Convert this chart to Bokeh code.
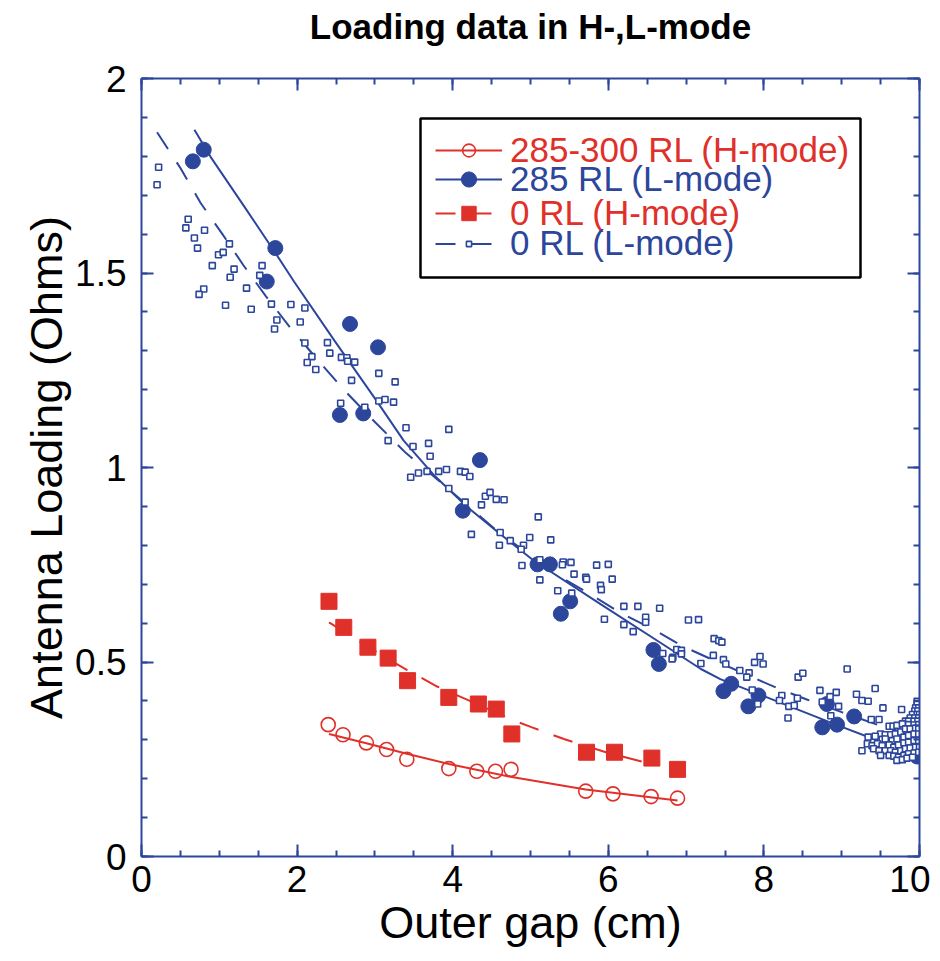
from bokeh.plotting import figure
from bokeh.models import (Range1d, LinearAxis, FixedTicker, CustomJSTickFormatter,
                          Legend, LegendItem, BoxAnnotation)
from bokeh.embed import file_html
from bokeh.resources import INLINE

BLUE = "#2c469c"
RED = "#e0302a"
FONT = "Liberation Sans"

TITLE = "Loading data in H-,L-mode"
X_LABEL = "Outer gap (cm)"
Y_LABEL = "Antenna Loading (Ohms)"
X_TICKS = [0, 2, 4, 6, 8, 10]
Y_TICKS = [0, 0.5, 1, 1.5, 2]
X_MINOR = [i * 0.5 for i in range(21)]
Y_MINOR = [i * 0.1 for i in range(21)]

# 285-300 RL (H-mode): open red circles + solid fit
H285_X = [2.40, 2.59, 2.89, 3.15, 3.41, 3.95, 4.31, 4.55, 4.75, 5.71, 6.06, 6.55, 6.89]
H285_Y = [0.339, 0.313, 0.292, 0.275, 0.250, 0.226, 0.219, 0.219, 0.224, 0.168, 0.161, 0.154, 0.150]
H285_FIT_X = [2.41, 2.89, 3.41, 3.95, 4.74, 5.71, 6.89]
H285_FIT_Y = [0.315, 0.291, 0.264, 0.238, 0.205, 0.172, 0.144]

# 0 RL (H-mode): red squares + dashed fit
H0_X = [2.41, 2.60, 2.91, 3.17, 3.42, 3.95, 4.33, 4.56, 4.76, 5.72, 6.08, 6.56, 6.89]
H0_Y = [0.656, 0.589, 0.538, 0.510, 0.452, 0.409, 0.392, 0.379, 0.315, 0.268, 0.268, 0.253, 0.224]
H0_FIT_X = [2.41, 2.90, 3.20, 3.41, 3.80, 4.30, 4.78, 5.02, 5.43, 6.00, 6.63]
H0_FIT_Y = [0.602, 0.541, 0.504, 0.480, 0.437, 0.393, 0.350, 0.332, 0.302, 0.266, 0.234]

# 285 RL (L-mode): filled blue circles + solid fit
L285_X = [0.66, 0.80, 1.61, 1.72, 2.55, 2.68, 2.85, 3.04, 4.13, 4.35, 5.09, 5.25, 5.39, 5.51,
          6.58, 6.65, 7.48, 7.58, 7.80, 7.93, 8.75, 8.81, 8.94, 9.16, 9.97]
L285_Y = [1.787, 1.817, 1.478, 1.564, 1.135, 1.369, 1.139, 1.309, 0.889, 1.019, 0.751, 0.751, 0.624, 0.656,
          0.531, 0.495, 0.425, 0.444, 0.386, 0.414, 0.332, 0.392, 0.339, 0.360, 0.257]
L285_FIT_X = [0.68, 0.89, 1.30, 1.70, 1.96, 2.48, 3.02, 3.37, 3.77, 4.19, 4.61, 5.04, 5.90, 6.76,
              7.19, 7.44, 8.04, 8.90, 9.41, 9.97]
L285_FIT_Y = [1.868, 1.798, 1.677, 1.558, 1.478, 1.326, 1.172, 1.069, 0.978, 0.898, 0.829, 0.761, 0.649, 0.538,
              0.482, 0.456, 0.409, 0.341, 0.302, 0.260]

# 0 RL (L-mode): small open blue squares + dashed fit
L0_X = [0.22, 0.20, 0.60, 0.57, 0.81, 0.68, 0.72, 1.13, 0.99, 1.05, 0.91, 1.19, 1.14, 0.80, 0.74, 1.08,
        1.35, 1.41, 1.55, 1.52, 1.67, 1.92, 2.10, 1.74, 1.71, 2.04, 2.10, 2.39, 2.42, 2.19, 2.13, 2.24,
        2.57, 2.64, 2.65, 2.74, 2.70, 3.05, 3.26, 2.56, 2.87, 3.05, 3.13, 3.24, 3.40, 3.95, 3.17,
        3.49, 3.69, 3.71, 3.46, 3.56, 3.67, 3.82, 3.92, 4.10, 4.16, 4.22, 3.95, 4.16, 4.42, 4.48,
        4.56, 4.66, 4.37, 4.24, 5.10, 5.26, 4.99, 4.61, 4.74, 4.60, 4.91, 4.88, 4.89, 5.12, 5.42,
        5.41, 5.52, 5.56, 5.12, 5.35, 5.53, 5.71, 5.72, 5.85, 6.00, 6.05, 5.90, 5.91, 5.95, 6.20,
        6.38, 6.66, 6.20, 6.32, 6.48, 6.48, 7.03, 7.16, 7.36, 7.42, 7.35, 7.19, 6.88, 6.94, 6.94,
        6.83, 6.70, 6.82,
        7.46, 7.48, 7.51, 7.88, 7.95, 7.99, 7.69, 7.81, 7.78, 7.85, 8.23, 8.20, 7.92, 8.32, 8.39,
        8.31, 8.44, 8.50, 8.43, 8.72, 8.93, 8.85, 8.75, 8.96, 8.86, 9.07, 9.19, 9.26, 9.34, 9.43,
        9.53, 9.77, 9.38, 9.48,
        9.97, 9.97, 9.95, 9.99, 9.94, 9.98, 9.91, 9.97, 10.0, 9.88, 9.94, 9.99, 9.82, 9.86, 9.93, 9.98,
        9.61, 9.66, 9.71, 9.78, 9.86, 9.93, 9.99,
        9.50, 9.56, 9.63, 9.69, 9.76, 9.82, 9.88, 9.95, 9.99,
        9.34, 9.43, 9.52, 9.56, 9.65, 9.71, 9.80, 9.86, 9.93, 9.99,
        9.33, 9.39, 9.46, 9.52, 9.61, 9.67, 9.73, 9.80, 9.86, 9.93, 9.99,
        9.26, 9.41, 9.48, 9.56, 9.63, 9.69, 9.76, 9.82, 9.88, 9.95, 10.0,
        9.50, 9.61, 9.67, 9.73, 9.80, 9.86, 9.93, 9.99,
        9.71, 9.78, 9.84, 9.91]
L0_Y = [1.772, 1.727, 1.638, 1.616, 1.610, 1.590, 1.564, 1.575, 1.547, 1.553, 1.519, 1.510, 1.489, 1.459, 1.445, 1.417,
        1.461, 1.407, 1.519, 1.494, 1.420, 1.419, 1.410, 1.379, 1.356, 1.374, 1.320, 1.321, 1.294, 1.285, 1.270, 1.252,
        1.283, 1.282, 1.273, 1.271, 1.224, 1.242, 1.220, 1.165, 1.155, 1.171, 1.175, 1.168, 1.102, 1.098, 1.069,
        1.054, 1.062, 1.029, 0.975, 0.986, 0.990, 0.990, 0.995, 0.990, 0.988, 0.977, 0.946, 0.911, 0.926, 0.936,
        0.918, 0.917, 0.904, 0.828, 0.873, 0.814, 0.820, 0.833, 0.812, 0.800, 0.800, 0.790, 0.748, 0.763, 0.757,
        0.750, 0.756, 0.726, 0.711, 0.683, 0.677, 0.718, 0.713, 0.749, 0.751, 0.713, 0.697, 0.686, 0.610, 0.643,
        0.643, 0.638, 0.596, 0.578, 0.615, 0.602, 0.608, 0.609, 0.560, 0.555, 0.517, 0.496, 0.532, 0.530, 0.521,
        0.512, 0.522, 0.508,
        0.551, 0.506, 0.495, 0.499, 0.514, 0.495, 0.478, 0.472, 0.461, 0.428, 0.414, 0.401, 0.392, 0.386, 0.388,
        0.356, 0.461, 0.471, 0.407, 0.427, 0.422, 0.411, 0.397, 0.386, 0.362, 0.482, 0.417, 0.401, 0.399, 0.432,
        0.382, 0.378, 0.352, 0.352,
        0.399, 0.391, 0.382, 0.382, 0.374, 0.374, 0.365, 0.365, 0.365, 0.356, 0.356, 0.356, 0.348, 0.348, 0.348, 0.348,
        0.335, 0.335, 0.337, 0.341, 0.339, 0.338, 0.339,
        0.315, 0.313, 0.313, 0.315, 0.320, 0.328, 0.328, 0.330, 0.328,
        0.307, 0.309, 0.301, 0.302, 0.298, 0.302, 0.307, 0.311, 0.315, 0.315,
        0.290, 0.285, 0.290, 0.285, 0.287, 0.281, 0.287, 0.292, 0.294, 0.298, 0.298,
        0.272, 0.277, 0.272, 0.272, 0.272, 0.268, 0.272, 0.277, 0.279, 0.281, 0.281,
        0.260, 0.260, 0.258, 0.255, 0.260, 0.264, 0.266, 0.268,
        0.247, 0.249, 0.253, 0.255]
L0_FIT_X = [0.20, 0.50, 0.76, 1.04, 1.31, 1.60, 1.91, 2.25, 2.60, 2.96, 3.40, 3.80, 4.57, 5.37, 5.78,
            6.16, 6.55, 6.96, 7.35, 7.78, 8.17, 8.56, 9.00, 9.50, 10.0]
L0_FIT_Y = [1.862, 1.770, 1.680, 1.600, 1.520, 1.440, 1.360, 1.280, 1.200, 1.125, 1.037, 0.970, 0.837, 0.720, 0.673,
            0.626, 0.587, 0.540, 0.505, 0.467, 0.433, 0.403, 0.371, 0.336, 0.302]

LEGEND_LABELS = ["285-300 RL (H-mode)", "285 RL (L-mode)", "0 RL (H-mode)", "0 RL (L-mode)"]

p = figure(width=930, height=959, x_range=Range1d(0, 10), y_range=Range1d(0, 2),
           output_backend="svg", toolbar_location=None, title=None,
           x_axis_location=None, y_axis_location=None,
           min_border_left=141, min_border_right=11, min_border_top=78, min_border_bottom=103)
p.outline_line_color = None
p.background_fill_color = "white"
p.border_fill_color = "white"
p.xgrid.visible = False
p.ygrid.visible = False

plain = CustomJSTickFormatter(code="return tick.toString();")
blank = CustomJSTickFormatter(code="return '';")


def make_axis(ticks, minor, show, label=None):
    ax = LinearAxis(ticker=FixedTicker(ticks=ticks, minor_ticks=minor),
                    formatter=plain if show else blank)
    ax.axis_line_color = BLUE
    ax.axis_line_width = 2
    ax.major_tick_line_color = BLUE
    ax.major_tick_line_width = 2
    ax.minor_tick_line_color = BLUE
    ax.minor_tick_line_width = 2
    ax.major_tick_in = 12
    ax.major_tick_out = 0
    ax.minor_tick_in = 6
    ax.minor_tick_out = 0
    ax.major_label_text_font = FONT
    ax.major_label_text_color = "black"
    ax.major_label_text_font_size = "37px" if show else "0px"
    if label:
        ax.axis_label = label
        ax.axis_label_text_font = FONT
        ax.axis_label_text_font_size = "45px"
        ax.axis_label_text_font_style = "normal"
        ax.axis_label_text_color = "black"
        ax.axis_label_standoff = 2
    return ax


xb = make_axis(X_TICKS, X_MINOR, True, X_LABEL)
xb.major_label_standoff = 9
yl = make_axis(Y_TICKS, Y_MINOR, True, Y_LABEL)
yl.major_label_standoff = 15
yl.axis_label_standoff = 0
xt = make_axis(X_TICKS, X_MINOR, False)
yr = make_axis(Y_TICKS, Y_MINOR, False)
for ax in (xt, yr):
    ax.major_label_standoff = 0
# the chart title is carried by the (label-less) top axis
xt.axis_label = TITLE
xt.axis_label_text_font = FONT
xt.axis_label_text_font_size = "35px"
xt.axis_label_text_font_style = "bold"
xt.axis_label_text_color = "black"
xt.axis_label_standoff = 33
p.add_layout(xb, "below")
p.add_layout(yl, "left")
p.add_layout(xt, "above")
p.add_layout(yr, "right")

# fit lines
l_h285 = p.line(H285_FIT_X, H285_FIT_Y, line_color=RED, line_width=2)
l_h0 = p.line(H0_FIT_X, H0_FIT_Y, line_color=RED, line_width=2, line_dash="20 16")
l_l285 = p.line(L285_FIT_X, L285_FIT_Y, line_color=BLUE, line_width=2)
l_l0 = p.line(L0_FIT_X, L0_FIT_Y, line_color=BLUE, line_width=2, line_dash="20 16")

# markers
m_l285 = p.scatter(L285_X, L285_Y, marker="circle", size=15, fill_color=BLUE, line_color=BLUE)
m_l0 = p.scatter(L0_X, L0_Y, marker="square", size=6, fill_color="white", line_color=BLUE, line_width=1.6)
m_h0 = p.scatter(H0_X, H0_Y, marker="square", size=16, fill_color=RED, line_color=RED)
m_h285 = p.scatter(H285_X, H285_Y, marker="circle", size=14, fill_color=None, line_color=RED, line_width=1.6)

# legend box
box = BoxAnnotation(left=279, right=719, bottom=579, top=738,
                    left_units="screen", right_units="screen", top_units="screen", bottom_units="screen",
                    fill_color="white", fill_alpha=1.0, line_color="black", line_alpha=1.0, line_width=2.5)
p.add_layout(box)

entries = [
    (LEGEND_LABELS[0], [l_h285, m_h285], RED, 32, 151),
    (LEGEND_LABELS[1], [l_l285, m_l285], BLUE, 38, 180),
    (LEGEND_LABELS[2], [l_h0, m_h0], RED, 36, 214),
    (LEGEND_LABELS[3], [l_l0, m_l0], BLUE, 13, 244),
]
for label, rends, color, gh, row in entries:
    leg = Legend(items=[LegendItem(label=label, renderers=rends)],
                 location=(294, 856 - row - 19),
                 border_line_color=None, background_fill_alpha=0,
                 padding=0, margin=0, spacing=0,
                 glyph_width=67, glyph_height=gh, label_standoff=8,
                 label_text_font=FONT, label_text_font_size="35px",
                 label_text_color=color)
    p.add_layout(leg, "center")

open("out.html", "w").write(file_html(p, INLINE))
